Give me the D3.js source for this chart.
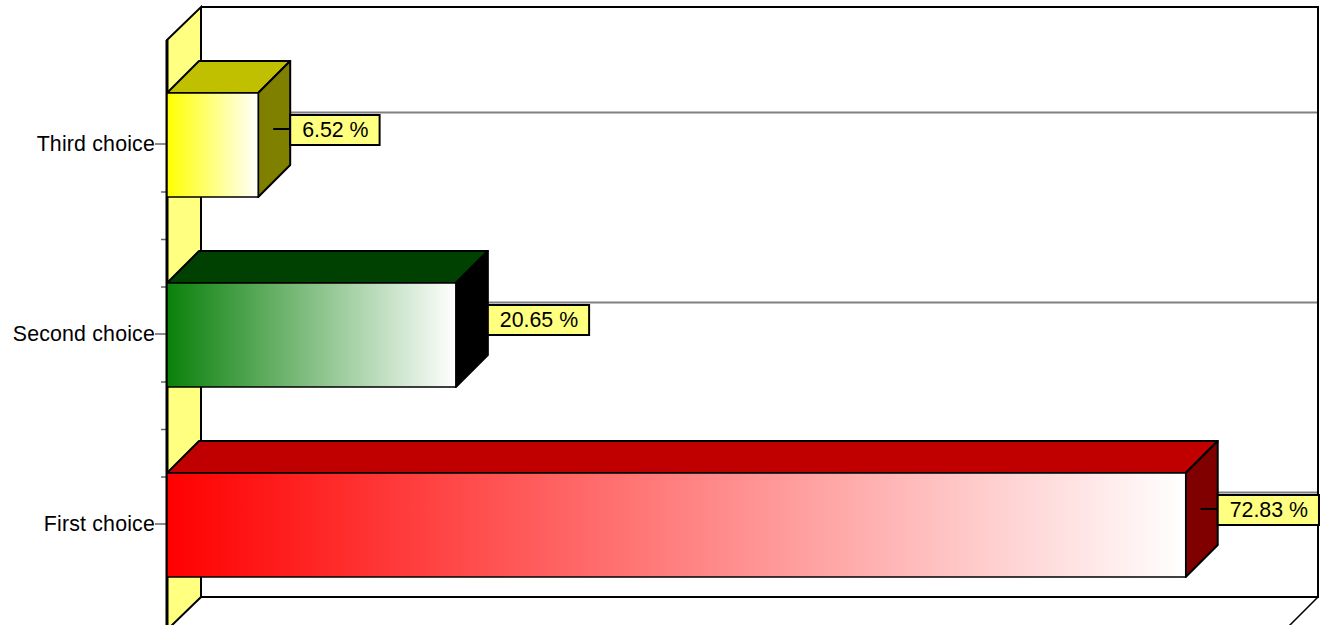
<!DOCTYPE html>
<html><head><meta charset="utf-8">
<script src="https://cdn.jsdelivr.net/npm/d3@7/dist/d3.min.js"></script>
<style>html,body{margin:0;padding:0;background:#fff;overflow:hidden}svg{display:block}text{font-family:"Liberation Sans",Arial,sans-serif;fill:#000}</style>
</head><body><svg id="c" width="1322" height="625"></svg>
<script>
const categories = ["First choice", "Second choice", "Third choice"];
const values = [72.83, 20.65, 6.52];
const frontColors = ["#ff0000", "#0a800a", "#ffff00"];
const topColors = ["#c00000", "#004000", "#c0c000"];
const sideColors = ["#800000", "#000000", "#808000"];
const minorTicks = [3, 4, 5, 7, 8, 9];
const valueMax = 80;

const svg = d3.select("#c");
const x = d3.scaleLinear().domain([0, valueMax]).range([167, 1286]);
const y = d3.scaleBand().domain(categories).range([619, 49]);
const yMinor = d3.scaleLinear().domain([0, 12]).range([619, 49]);
const wallDx = 34, wallDy = 33, barD = 32;
const barH = 104, fontSize = 21.33;
const wallTop = 40, wallBottom = 630, floorY = 597;
const backR = 1318;
const poly = (pts) => pts.map(p => p.join(",")).join(" ");

const defs = svg.append("defs");
categories.forEach((c, i) => {
  const g = defs.append("linearGradient").attr("id", "g" + i);
  g.append("stop").attr("offset", 0).attr("stop-color", frontColors[i]);
  g.append("stop").attr("offset", 1).attr("stop-color", "#ffffff");
});

// gridlines
svg.selectAll(".grid").data(categories).join("line")
  .attr("x1", x(0) + wallDx).attr("x2", backR)
  .attr("y1", d => y(d) + y.bandwidth() / 2 - wallDy + 1.5).attr("y2", d => y(d) + y.bandwidth() / 2 - wallDy + 1.5)
  .attr("stroke", "#808080").attr("stroke-width", 2);
// side wall
svg.append("polygon").attr("points", poly([[x(0), wallTop], [x(0) + wallDx, wallTop - wallDy], [x(0) + wallDx, floorY], [x(0), floorY + wallDy]]))
  .attr("fill", "#ffff80").attr("stroke", "#000").attr("stroke-width", 2);
// frame
svg.append("path").attr("d", `M${x(0) + wallDx},${wallTop - wallDy}H${backR}V${floorY}H${x(0) + wallDx}`)
  .attr("fill", "none").attr("stroke", "#000").attr("stroke-width", 2);
svg.append("line").attr("x1", backR).attr("y1", floorY).attr("x2", backR - wallDy).attr("y2", floorY + wallDy)
  .attr("stroke", "#000").attr("stroke-width", 1.5);

// axes
const minor = svg.append("g").attr("transform", `translate(${x(0)},0)`)
  .call(d3.axisLeft(yMinor).tickValues(minorTicks).tickSize(6).tickFormat(""));
minor.select(".domain").remove();
minor.selectAll("line").attr("stroke", "#666").attr("stroke-width", 1.5);
const major = svg.append("g").attr("transform", `translate(${x(0)},0)`)
  .call(d3.axisLeft(y).tickSize(12).tickPadding(0));
major.select(".domain").remove();
major.selectAll("line").attr("stroke", "#666").attr("stroke-width", 1.5);
major.selectAll("text").attr("font-size", fontSize).attr("font-family", '"Liberation Sans",Arial,sans-serif')
  .attr("fill", "#000").attr("dy", "0.33em").attr("letter-spacing", "0.18px");
svg.append("line").attr("x1", x(0)).attr("x2", x(0)).attr("y1", wallTop).attr("y2", wallBottom).attr("stroke", "#000").attr("stroke-width", 3);

// bars
categories.forEach((c, i) => {
  const cy = y(c) + y.bandwidth() / 2, x1 = x(values[i]), x0 = x(0);
  const yt = cy - barH / 2 + 1, yb = yt + barH;
  const g = svg.append("g").attr("stroke", "#000").attr("stroke-width", 2).attr("stroke-linejoin", "round");
  g.append("polygon").attr("points", poly([[x0, yt], [x1, yt], [x1 + barD, yt - barD], [x0 + barD, yt - barD]])).attr("fill", topColors[i]);
  g.append("polygon").attr("points", poly([[x1, yt], [x1 + barD, yt - barD], [x1 + barD, yb - barD], [x1, yb]])).attr("fill", sideColors[i]);
  g.append("rect").attr("x", x0).attr("y", yt).attr("width", x1 - x0).attr("height", barH).attr("fill", `url(#g${i})`).attr("stroke-width", 1.5);
  // data label
  const bx = x1 + barD, by = cy - 29, bh = 30;
  const box = svg.append("rect").attr("x", bx).attr("y", by).attr("height", bh).attr("fill", "#ffff80").attr("stroke", "#000").attr("stroke-width", 2);
  const t = svg.append("text").attr("x", bx + 12).attr("y", by + bh / 2).attr("dy", "0.33em").attr("font-size", fontSize).text(d3.format(".2f")(values[i]) + " %");
  box.attr("width", t.node().getComputedTextLength() + 23);
  svg.append("line").attr("x1", bx - 17).attr("x2", bx).attr("y1", by + 14).attr("y2", by + 14).attr("stroke", "#000").attr("stroke-width", 2);
});
</script></body></html>
